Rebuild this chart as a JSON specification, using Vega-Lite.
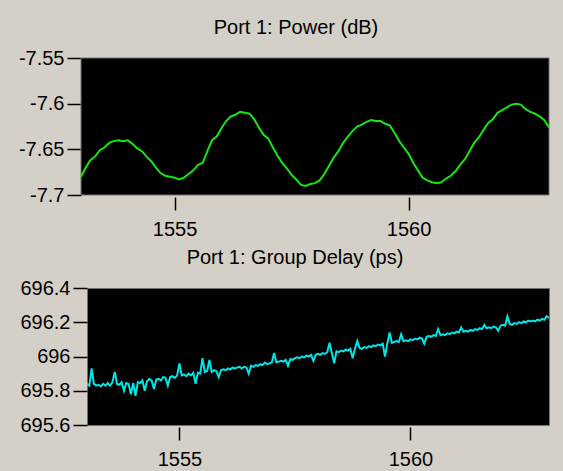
{
  "$schema": "https://vega.github.io/schema/vega-lite/v6.json",
  "background": "#d4d0c8",
  "padding": {"left": 16, "top": 18, "right": 15, "bottom": 1},
  "spacing": 8,
  "config": {
    "font": "Liberation Sans",
    "view": {"fill": "#000000", "stroke": "#707070", "strokeWidth": 1},
    "axis": {
      "labelFont": "Liberation Sans",
      "labelFontSize": 20,
      "labelColor": "#000000",
      "tickColor": "#000000",
      "tickWidth": 1.5,
      "domain": false,
      "grid": false,
      "title": null,
      "labelExpr": "'' + datum.value"
    },
    "axisX": {"tickSize": 13, "offset": 2, "labelPadding": 9},
    "axisY": {"tickSize": 14, "labelPadding": 3},
    "title": {
      "font": "Liberation Sans",
      "fontSize": 20,
      "fontWeight": "normal",
      "color": "#000000",
      "anchor": "middle",
      "frame": "group",
      "offset": 10
    }
  },
  "datasets": {
    "power": [
      {"w": 1553.0, "p": -7.680}, {"w": 1553.1, "p": -7.670}, {"w": 1553.2, "p": -7.662}, {"w": 1553.3, "p": -7.658},
      {"w": 1553.4, "p": -7.651}, {"w": 1553.5, "p": -7.648}, {"w": 1553.6, "p": -7.643}, {"w": 1553.7, "p": -7.641},
      {"w": 1553.8, "p": -7.640}, {"w": 1553.9, "p": -7.641}, {"w": 1554.0, "p": -7.640}, {"w": 1554.1, "p": -7.644},
      {"w": 1554.2, "p": -7.649}, {"w": 1554.3, "p": -7.652}, {"w": 1554.4, "p": -7.658}, {"w": 1554.5, "p": -7.663},
      {"w": 1554.6, "p": -7.670}, {"w": 1554.7, "p": -7.676}, {"w": 1554.8, "p": -7.679}, {"w": 1554.9, "p": -7.680},
      {"w": 1555.0, "p": -7.681}, {"w": 1555.1, "p": -7.683}, {"w": 1555.2, "p": -7.681}, {"w": 1555.3, "p": -7.677},
      {"w": 1555.4, "p": -7.673}, {"w": 1555.5, "p": -7.667}, {"w": 1555.6, "p": -7.665}, {"w": 1555.7, "p": -7.652},
      {"w": 1555.8, "p": -7.640}, {"w": 1555.9, "p": -7.636}, {"w": 1556.0, "p": -7.627}, {"w": 1556.1, "p": -7.619},
      {"w": 1556.2, "p": -7.614}, {"w": 1556.3, "p": -7.612}, {"w": 1556.4, "p": -7.609}, {"w": 1556.5, "p": -7.610},
      {"w": 1556.6, "p": -7.611}, {"w": 1556.7, "p": -7.617}, {"w": 1556.8, "p": -7.626}, {"w": 1556.9, "p": -7.634},
      {"w": 1557.0, "p": -7.638}, {"w": 1557.1, "p": -7.648}, {"w": 1557.2, "p": -7.657}, {"w": 1557.3, "p": -7.665},
      {"w": 1557.4, "p": -7.671}, {"w": 1557.5, "p": -7.678}, {"w": 1557.6, "p": -7.683}, {"w": 1557.7, "p": -7.689},
      {"w": 1557.8, "p": -7.690}, {"w": 1557.9, "p": -7.688}, {"w": 1558.0, "p": -7.687}, {"w": 1558.1, "p": -7.684},
      {"w": 1558.2, "p": -7.677}, {"w": 1558.3, "p": -7.668}, {"w": 1558.4, "p": -7.659}, {"w": 1558.5, "p": -7.652},
      {"w": 1558.6, "p": -7.643}, {"w": 1558.7, "p": -7.636}, {"w": 1558.8, "p": -7.630}, {"w": 1558.9, "p": -7.625},
      {"w": 1559.0, "p": -7.623}, {"w": 1559.1, "p": -7.620}, {"w": 1559.2, "p": -7.618}, {"w": 1559.3, "p": -7.619},
      {"w": 1559.4, "p": -7.619}, {"w": 1559.5, "p": -7.622}, {"w": 1559.6, "p": -7.624}, {"w": 1559.7, "p": -7.632},
      {"w": 1559.8, "p": -7.641}, {"w": 1559.9, "p": -7.648}, {"w": 1560.0, "p": -7.655}, {"w": 1560.1, "p": -7.665},
      {"w": 1560.2, "p": -7.673}, {"w": 1560.3, "p": -7.681}, {"w": 1560.4, "p": -7.684}, {"w": 1560.5, "p": -7.686},
      {"w": 1560.6, "p": -7.687}, {"w": 1560.7, "p": -7.686}, {"w": 1560.8, "p": -7.682}, {"w": 1560.9, "p": -7.679},
      {"w": 1561.0, "p": -7.674}, {"w": 1561.1, "p": -7.667}, {"w": 1561.2, "p": -7.661}, {"w": 1561.3, "p": -7.652},
      {"w": 1561.4, "p": -7.643}, {"w": 1561.5, "p": -7.637}, {"w": 1561.6, "p": -7.629}, {"w": 1561.7, "p": -7.621},
      {"w": 1561.8, "p": -7.617}, {"w": 1561.9, "p": -7.610}, {"w": 1562.0, "p": -7.607}, {"w": 1562.1, "p": -7.604},
      {"w": 1562.2, "p": -7.601}, {"w": 1562.3, "p": -7.600}, {"w": 1562.4, "p": -7.601}, {"w": 1562.5, "p": -7.606},
      {"w": 1562.6, "p": -7.609}, {"w": 1562.7, "p": -7.611}, {"w": 1562.8, "p": -7.614}, {"w": 1562.9, "p": -7.618},
      {"w": 1563.0, "p": -7.626}
    ],
    "delay": [
      {"w": 1553.00, "d": 695.840}, {"w": 1553.05, "d": 695.830}, {"w": 1553.10, "d": 695.930}, {"w": 1553.15, "d": 695.840},
      {"w": 1553.20, "d": 695.830}, {"w": 1553.25, "d": 695.835}, {"w": 1553.30, "d": 695.825}, {"w": 1553.35, "d": 695.840},
      {"w": 1553.40, "d": 695.830}, {"w": 1553.45, "d": 695.845}, {"w": 1553.50, "d": 695.830}, {"w": 1553.55, "d": 695.850},
      {"w": 1553.60, "d": 695.910}, {"w": 1553.65, "d": 695.840}, {"w": 1553.70, "d": 695.835}, {"w": 1553.75, "d": 695.850},
      {"w": 1553.80, "d": 695.800}, {"w": 1553.85, "d": 695.845}, {"w": 1553.90, "d": 695.840}, {"w": 1553.95, "d": 695.780},
      {"w": 1554.00, "d": 695.845}, {"w": 1554.05, "d": 695.770}, {"w": 1554.10, "d": 695.850}, {"w": 1554.15, "d": 695.845},
      {"w": 1554.20, "d": 695.860}, {"w": 1554.25, "d": 695.800}, {"w": 1554.30, "d": 695.855}, {"w": 1554.35, "d": 695.870},
      {"w": 1554.40, "d": 695.860}, {"w": 1554.45, "d": 695.810}, {"w": 1554.50, "d": 695.865}, {"w": 1554.55, "d": 695.870},
      {"w": 1554.60, "d": 695.860}, {"w": 1554.65, "d": 695.880}, {"w": 1554.70, "d": 695.875}, {"w": 1554.75, "d": 695.830},
      {"w": 1554.80, "d": 695.880}, {"w": 1554.85, "d": 695.885}, {"w": 1554.90, "d": 695.875}, {"w": 1554.95, "d": 695.890},
      {"w": 1555.00, "d": 695.960}, {"w": 1555.05, "d": 695.890}, {"w": 1555.10, "d": 695.895}, {"w": 1555.15, "d": 695.885},
      {"w": 1555.20, "d": 695.900}, {"w": 1555.25, "d": 695.890}, {"w": 1555.30, "d": 695.905}, {"w": 1555.35, "d": 695.840},
      {"w": 1555.40, "d": 695.905}, {"w": 1555.45, "d": 695.900}, {"w": 1555.50, "d": 695.990}, {"w": 1555.55, "d": 695.910},
      {"w": 1555.60, "d": 695.915}, {"w": 1555.65, "d": 695.980}, {"w": 1555.70, "d": 695.910}, {"w": 1555.75, "d": 695.920},
      {"w": 1555.80, "d": 695.915}, {"w": 1555.85, "d": 695.880}, {"w": 1555.90, "d": 695.920}, {"w": 1555.95, "d": 695.925},
      {"w": 1556.00, "d": 695.920}, {"w": 1556.05, "d": 695.930}, {"w": 1556.10, "d": 695.925}, {"w": 1556.15, "d": 695.935},
      {"w": 1556.20, "d": 695.930}, {"w": 1556.25, "d": 695.935}, {"w": 1556.30, "d": 695.940}, {"w": 1556.35, "d": 695.930},
      {"w": 1556.40, "d": 695.940}, {"w": 1556.45, "d": 695.935}, {"w": 1556.50, "d": 695.900}, {"w": 1556.55, "d": 695.945},
      {"w": 1556.60, "d": 695.940}, {"w": 1556.65, "d": 695.950}, {"w": 1556.70, "d": 695.945}, {"w": 1556.75, "d": 695.955},
      {"w": 1556.80, "d": 695.950}, {"w": 1556.85, "d": 695.965}, {"w": 1556.90, "d": 695.955}, {"w": 1556.95, "d": 695.960},
      {"w": 1557.00, "d": 695.965}, {"w": 1557.05, "d": 696.020}, {"w": 1557.10, "d": 695.965}, {"w": 1557.15, "d": 695.970},
      {"w": 1557.20, "d": 695.975}, {"w": 1557.25, "d": 695.970}, {"w": 1557.30, "d": 695.980}, {"w": 1557.35, "d": 695.945},
      {"w": 1557.40, "d": 695.985}, {"w": 1557.45, "d": 695.980}, {"w": 1557.50, "d": 695.990}, {"w": 1557.55, "d": 695.995},
      {"w": 1557.60, "d": 695.990}, {"w": 1557.65, "d": 696.000}, {"w": 1557.70, "d": 695.995}, {"w": 1557.75, "d": 696.005},
      {"w": 1557.80, "d": 696.000}, {"w": 1557.85, "d": 696.010}, {"w": 1557.90, "d": 695.975}, {"w": 1557.95, "d": 696.010},
      {"w": 1558.00, "d": 696.015}, {"w": 1558.05, "d": 696.010}, {"w": 1558.10, "d": 696.020}, {"w": 1558.15, "d": 696.015},
      {"w": 1558.20, "d": 696.025}, {"w": 1558.25, "d": 696.080}, {"w": 1558.30, "d": 696.020}, {"w": 1558.35, "d": 695.960},
      {"w": 1558.40, "d": 696.030}, {"w": 1558.45, "d": 696.025}, {"w": 1558.50, "d": 696.035}, {"w": 1558.55, "d": 696.030},
      {"w": 1558.60, "d": 696.040}, {"w": 1558.65, "d": 696.035}, {"w": 1558.70, "d": 696.045}, {"w": 1558.75, "d": 695.990},
      {"w": 1558.80, "d": 696.045}, {"w": 1558.85, "d": 696.090}, {"w": 1558.90, "d": 696.050}, {"w": 1558.95, "d": 696.045},
      {"w": 1559.00, "d": 696.055}, {"w": 1559.05, "d": 696.050}, {"w": 1559.10, "d": 696.060}, {"w": 1559.15, "d": 696.055},
      {"w": 1559.20, "d": 696.065}, {"w": 1559.25, "d": 696.060}, {"w": 1559.30, "d": 696.070}, {"w": 1559.35, "d": 696.065},
      {"w": 1559.40, "d": 696.075}, {"w": 1559.45, "d": 696.000}, {"w": 1559.50, "d": 696.075}, {"w": 1559.55, "d": 696.140},
      {"w": 1559.60, "d": 696.080}, {"w": 1559.65, "d": 696.085}, {"w": 1559.70, "d": 696.090}, {"w": 1559.75, "d": 696.085},
      {"w": 1559.80, "d": 696.130}, {"w": 1559.85, "d": 696.090}, {"w": 1559.90, "d": 696.095}, {"w": 1559.95, "d": 696.090},
      {"w": 1560.00, "d": 696.100}, {"w": 1560.05, "d": 696.095}, {"w": 1560.10, "d": 696.105}, {"w": 1560.15, "d": 696.100},
      {"w": 1560.20, "d": 696.110}, {"w": 1560.25, "d": 696.105}, {"w": 1560.30, "d": 696.075}, {"w": 1560.35, "d": 696.115},
      {"w": 1560.40, "d": 696.120}, {"w": 1560.45, "d": 696.115}, {"w": 1560.50, "d": 696.125}, {"w": 1560.55, "d": 696.120},
      {"w": 1560.60, "d": 696.160}, {"w": 1560.65, "d": 696.125}, {"w": 1560.70, "d": 696.130}, {"w": 1560.75, "d": 696.125},
      {"w": 1560.80, "d": 696.135}, {"w": 1560.85, "d": 696.130}, {"w": 1560.90, "d": 696.140}, {"w": 1560.95, "d": 696.135},
      {"w": 1561.00, "d": 696.145}, {"w": 1561.05, "d": 696.140}, {"w": 1561.10, "d": 696.170}, {"w": 1561.15, "d": 696.145},
      {"w": 1561.20, "d": 696.150}, {"w": 1561.25, "d": 696.145}, {"w": 1561.30, "d": 696.155}, {"w": 1561.35, "d": 696.150},
      {"w": 1561.40, "d": 696.160}, {"w": 1561.45, "d": 696.155}, {"w": 1561.50, "d": 696.165}, {"w": 1561.55, "d": 696.160},
      {"w": 1561.60, "d": 696.185}, {"w": 1561.65, "d": 696.165}, {"w": 1561.70, "d": 696.170}, {"w": 1561.75, "d": 696.165},
      {"w": 1561.80, "d": 696.175}, {"w": 1561.85, "d": 696.170}, {"w": 1561.90, "d": 696.150}, {"w": 1561.95, "d": 696.180},
      {"w": 1562.00, "d": 696.185}, {"w": 1562.05, "d": 696.180}, {"w": 1562.10, "d": 696.235}, {"w": 1562.15, "d": 696.190},
      {"w": 1562.20, "d": 696.185}, {"w": 1562.25, "d": 696.195}, {"w": 1562.30, "d": 696.190}, {"w": 1562.35, "d": 696.200},
      {"w": 1562.40, "d": 696.195}, {"w": 1562.45, "d": 696.205}, {"w": 1562.50, "d": 696.200}, {"w": 1562.55, "d": 696.210},
      {"w": 1562.60, "d": 696.205}, {"w": 1562.65, "d": 696.210}, {"w": 1562.70, "d": 696.205}, {"w": 1562.75, "d": 696.215},
      {"w": 1562.80, "d": 696.210}, {"w": 1562.85, "d": 696.220}, {"w": 1562.90, "d": 696.215}, {"w": 1562.95, "d": 696.235},
      {"w": 1563.00, "d": 696.225}
    ]
  },
  "vconcat": [
    {
      "title": {"text": "Port 1: Power (dB)", "dx": -22},
      "width": 462,
      "height": 137,
      "view": {"stroke": null},
      "layer": [
        {
          "data": {"values": [{}]},
          "mark": {"type": "rect", "fill": "#000000", "stroke": "#707070", "strokeWidth": 1, "clip": false},
          "encoding": {
            "x": {"datum": 1553, "type": "quantitative"},
            "x2": {"datum": 1563},
            "y": {"datum": -7.7, "type": "quantitative"},
            "y2": {"datum": -7.55}
          }
        },
        {
          "data": {"name": "power"},
          "mark": {"type": "line", "color": "#14e614", "strokeWidth": 2, "clip": false},
          "encoding": {
            "x": {"field": "w", "type": "quantitative", "scale": {"domain": [1553.128, 1563], "nice": false, "zero": false}, "axis": {"values": [1555, 1560]}},
            "y": {"field": "p", "type": "quantitative", "scale": {"domain": [-7.7, -7.55], "nice": false, "zero": false}, "axis": {"values": [-7.7, -7.65, -7.6, -7.55], "offset": 6}}
          }
        }
      ]
    },
    {
      "title": {"text": "Port 1: Group Delay (ps)", "dx": -23},
      "width": 462,
      "height": 137,
      "data": {"name": "delay"},
      "mark": {"type": "line", "color": "#00e6e6", "strokeWidth": 2, "clip": true},
      "encoding": {
        "x": {"field": "w", "type": "quantitative", "scale": {"domain": [1553, 1563], "nice": false, "zero": false}, "axis": {"values": [1555, 1560]}},
        "y": {"field": "d", "type": "quantitative", "scale": {"domain": [695.6, 696.4], "nice": false, "zero": false}, "axis": {"values": [695.6, 695.8, 696, 696.2, 696.4], "minExtent": 70, "maxExtent": 70}}
      }
    }
  ]
}
